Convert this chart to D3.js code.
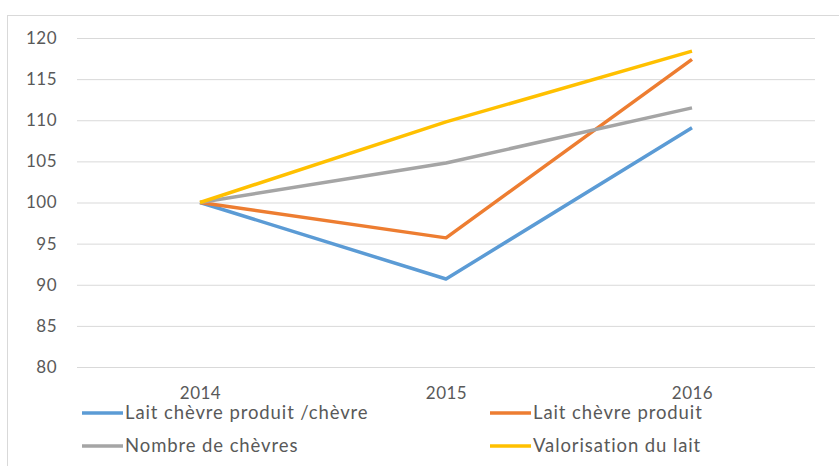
<!DOCTYPE html>
<html>
<head>
<meta charset="utf-8">
<script src="https://cdn.jsdelivr.net/npm/d3@7"></script>
<style>
  body { margin: 0; background: #fff; }
  text { font-family: "Lato", "DejaVu Sans Condensed", sans-serif; fill: #595959; }
</style>
</head>
<body>
<div id="chart"></div>
<script>
var years = ["2014", "2015", "2016"];
var laitParChevre = [100, 90.7, 109.1];
var laitProduit = [100, 95.7, 117.4];
var nbChevres = [100, 104.8, 111.5];
var valorisation = [100, 109.8, 118.4];
var yTicks = [80, 85, 90, 95, 100, 105, 110, 115, 120];

var series = [
  {name: "Lait chèvre produit /chèvre", values: laitParChevre, color: "#5b9bd5"},
  {name: "Lait chèvre produit", values: laitProduit, color: "#ed7d31"},
  {name: "Nombre de chèvres", values: nbChevres, color: "#a5a5a5"},
  {name: "Valorisation du lait", values: valorisation, color: "#ffc000"}
];

var W = 839, H = 466;
var svg = d3.select("#chart").append("svg")
    .attr("width", W)
    .attr("height", H);

// chart frame
svg.append("rect")
    .attr("x", 7.5).attr("y", 15.5)
    .attr("width", 900).attr("height", 500)
    .attr("fill", "none")
    .attr("stroke", "#d9d9d9");

var x = d3.scalePoint()
    .domain(years)
    .range([77, 815])
    .padding(0.5);

var y = d3.scaleLinear()
    .domain([80, 120])
    .range([367, 38]);

// grid
svg.append("g")
  .selectAll("line")
  .data(yTicks)
  .enter().append("line")
    .attr("x1", 77).attr("x2", 815)
    .attr("y1", function (d) { return y(d) + 0.5; })
    .attr("y2", function (d) { return y(d) + 0.5; })
    .attr("stroke", "#d9d9d9");

// y axis
var yAxis = svg.append("g")
    .attr("transform", "translate(57,0)")
    .call(d3.axisLeft(y).tickValues(yTicks).tickSize(0).tickPadding(0));
yAxis.select(".domain").remove();
yAxis.selectAll("text").style("font-size", "17px").style("letter-spacing", "0.5px");

// x axis labels
var xAxis = svg.append("g")
    .attr("transform", "translate(0,387)")
    .call(d3.axisBottom(x).tickSize(0).tickPadding(0));
xAxis.select(".domain").remove();
xAxis.selectAll("text").style("font-size", "17px").style("letter-spacing", "0.5px");

var line = d3.line()
    .x(function (d, i) { return x(years[i]); })
    .y(function (d) { return y(d); });

svg.selectAll(".serie")
  .data(series)
  .enter().append("path")
    .attr("class", "serie")
    .attr("d", function (d) { return line(d.values); })
    .attr("fill", "none")
    .attr("stroke", function (d) { return d.color; })
    .attr("stroke-width", 3.5)
    .attr("stroke-linejoin", "round");

// legend
var legPos = [[82, 413], [490, 413], [82, 446], [490, 446]];
var leg = svg.selectAll(".leg")
  .data(series)
  .enter().append("g")
    .attr("class", "leg")
    .attr("transform", function (d, i) { return "translate(" + legPos[i][0] + "," + legPos[i][1] + ")"; });
leg.append("line")
    .attr("x1", 0).attr("x2", 41)
    .attr("stroke", function (d) { return d.color; })
    .attr("stroke-width", 3.5);
leg.append("text")
    .attr("x", 43)
    .attr("dy", "0.35em")
    .style("font-size", "18.5px")
    .style("letter-spacing", "0.9px")
    .text(function (d) { return d.name; });
</script>
</body>
</html>
